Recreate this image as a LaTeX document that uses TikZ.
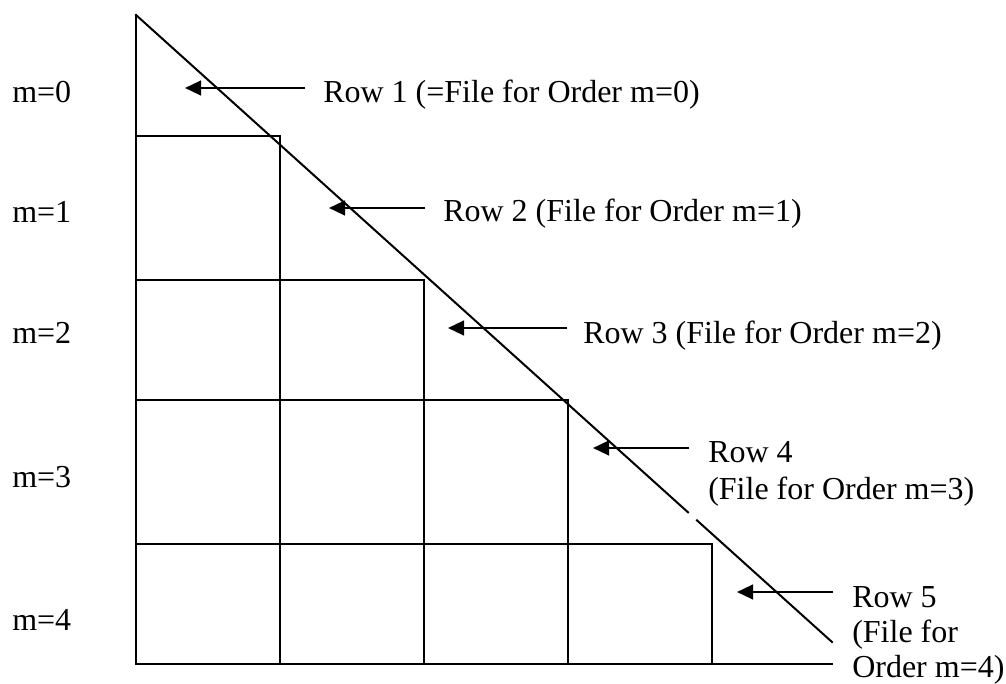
\documentclass[tikz,border=0pt]{standalone}
\usepackage{fontspec}
\setmainfont{Liberation Serif}
\usetikzlibrary{arrows.meta}
\tikzset{
  grid/.style={line width=1.5pt, line cap=rect},
  lbl/.style={anchor=base west, inner sep=0pt, font=\fontsize{24pt}{28.5pt}\selectfont, align=left},
  arr/.style={line width=1.8pt, -{Triangle[length=12pt,width=11pt]}}
}
\begin{document}
\begin{tikzpicture}[x=0.75pt,y=-0.75pt]
\useasboundingbox[fill=white] (0,0) rectangle (1006,684);
% outer frame
\draw[grid] (136,15) -- (136,664) -- (832,664);
\draw[grid] (136,15) -- (688,512.3);
\draw[grid] (697,520.4) -- (832,642);
% steps
\draw[grid] (136,136) -- (280,136) -- (280,664);
\draw[grid] (136,280) -- (424,280) -- (424,664);
\draw[grid] (136,400) -- (568,400) -- (568,664);
\draw[grid] (136,544) -- (712,544) -- (712,664);
% left labels
\node[lbl] (m0) at (12,103) {m=0};
\node[lbl] (m1) at (12,223) {m=1};
\node[lbl] (m2) at (12,343) {m=2};
\node[lbl] (m3) at (12,487) {m=3};
\node[lbl] (m4) at (12,630) {m=4};
% row labels
\node[lbl] (r1) at (323,103) {Row 1 (=File for Order m=0)};
\node[lbl] (r2) at (443,222) {Row 2 (File for Order m=1)};
\node[lbl] (r3) at (583,343) {Row 3 (File for Order m=2)};
\node[lbl] (r4) at (708,462) {Row 4};
\node[lbl] (r4b) at (708,499) {(File for Order m=3)};
\node[lbl] (r5) at (852,607) {Row 5};
\node[lbl] (r5b) at (852,642) {(File for};
\node[lbl] (r5c) at (852,677) {Order m=4)};
% arrows
\coordinate (a1s) at (305,88);  \coordinate (a1e) at (185,88);
\coordinate (a2s) at (425,208); \coordinate (a2e) at (329,208);
\coordinate (a3s) at (567,328); \coordinate (a3e) at (448,328);
\coordinate (a4s) at (689,448); \coordinate (a4e) at (593,448);
\coordinate (a5s) at (833,592); \coordinate (a5e) at (737,592);
\draw[arr] (a1s) -- (a1e);
\draw[arr] (a2s) -- (a2e);
\draw[arr] (a3s) -- (a3e);
\draw[arr] (a4s) -- (a4e);
\draw[arr] (a5s) -- (a5e);
\end{tikzpicture}
\end{document}
